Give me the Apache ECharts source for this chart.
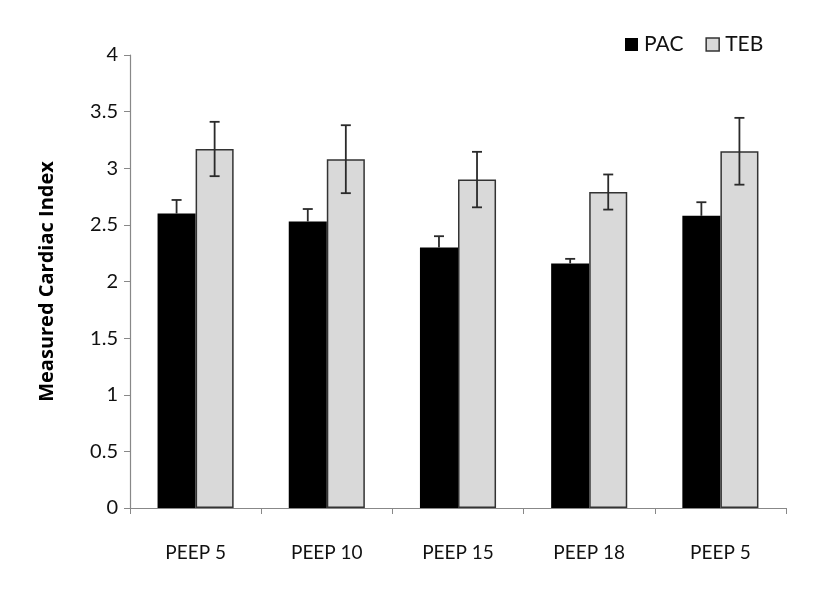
<!DOCTYPE html>
<html>
<head>
<meta charset="utf-8">
<script src="https://cdn.jsdelivr.net/npm/echarts@6/dist/echarts.min.js"></script>
<style>html,body{margin:0;padding:0;background:#fff}#c{width:827px;height:597px}</style>
</head>
<body>
<div id="c"></div>
<script>
var categories = ['PEEP 5', 'PEEP 10', 'PEEP 15', 'PEEP 18', 'PEEP 5'];
var pacValues = [2.60, 2.53, 2.30, 2.16, 2.58];
var pacErrors = [0.12, 0.11, 0.10, 0.04, 0.12];
var tebValues = [3.17, 3.08, 2.90, 2.79, 3.15];
var tebErrors = [0.24, 0.30, 0.245, 0.155, 0.295];
var yTicks = [0, 0.5, 1, 1.5, 2, 2.5, 3, 3.5, 4];

var BAR_FRAC = 0.29;
var font = 'Lato';

function errorSeries(name, values, errors, side, upperOnly) {
  var data = values.map(function (v, i) { return [i, v, errors[i]]; });
  return {
    type: 'custom',
    name: name + ' err',
    z: 10,
    silent: true,
    data: data,
    renderItem: function (params, api) {
      var idx = api.value(0), v = api.value(1), e = api.value(2);
      var band = api.size([1, 0])[0];
      var off = side * band * BAR_FRAC / 2;
      var top = api.coord([idx, v + e]);
      var bot = api.coord([idx, upperOnly ? v : v - e]);
      var x = top[0] + off;
      var cap = 5;
      var st = { stroke: '#2a2a2a', lineWidth: 1.8 };
      var children = [
        { type: 'line', shape: { x1: x, y1: top[1], x2: x, y2: bot[1] }, style: st },
        { type: 'line', shape: { x1: x - cap, y1: top[1], x2: x + cap, y2: top[1] }, style: st }
      ];
      if (!upperOnly) {
        children.push({ type: 'line', shape: { x1: x - cap, y1: bot[1], x2: x + cap, y2: bot[1] }, style: st });
      }
      return { type: 'group', children: children };
    }
  };
}

var chart = echarts.init(document.getElementById('c'), null, { renderer: 'canvas' });
chart.setOption({
  animation: false,
  backgroundColor: '#fff',
  textStyle: { fontFamily: font },
  grid: { left: 130, right: 41, top: 55, bottom: 89, containLabel: false },
  legend: {
    data: [
      { name: 'PAC', itemStyle: { color: '#000', borderWidth: 0 } },
      { name: 'TEB', itemStyle: { color: '#d9d9d9', borderColor: '#333', borderWidth: 1.5 } }
    ],
    left: 620, top: 29,
    itemWidth: 13, itemHeight: 13, itemGap: 22,
    icon: 'rect',
    textStyle: { fontFamily: font, fontSize: 21, color: '#111', padding: [0, 0, 0, 1] }
  },
  xAxis: {
    type: 'category',
    data: categories,
    axisLine: { lineStyle: { color: '#888', width: 1.2 } },
    axisTick: { show: true, alignWithLabel: false, length: 6, lineStyle: { color: '#888' } },
    axisLabel: { fontFamily: font, fontSize: 19, color: '#111', margin: 35 }
  },
  yAxis: {
    type: 'value',
    min: 0, max: 4, interval: 0.5,
    name: 'Measured Cardiac Index',
    nameLocation: 'middle',
    nameGap: 73,
    nameTextStyle: { fontFamily: 'Open Sans', fontSize: 20, fontWeight: 'bold', color: '#000' },
    splitLine: { show: false },
    axisLine: { show: true, lineStyle: { color: '#888', width: 1.2 } },
    axisTick: { show: true, length: 6, lineStyle: { color: '#888' } },
    axisLabel: {
      fontFamily: font, fontSize: 20, color: '#111', margin: 12,
      formatter: function (v) { return yTicks.indexOf(v) >= 0 ? String(v) : ''; }
    }
  },
  series: [
    {
      name: 'PAC', type: 'bar', data: pacValues,
      barWidth: (BAR_FRAC * 100) + '%', barGap: '0%',
      itemStyle: { color: '#000' }
    },
    {
      name: 'TEB', type: 'bar', data: tebValues,
      barWidth: (BAR_FRAC * 100) + '%', barGap: '0%',
      itemStyle: { color: '#d9d9d9', borderColor: '#333', borderWidth: 1.5 }
    },
    errorSeries('PAC', pacValues, pacErrors, -1, true),
    errorSeries('TEB', tebValues, tebErrors, 1, false)
  ]
});
</script>
</body>
</html>
